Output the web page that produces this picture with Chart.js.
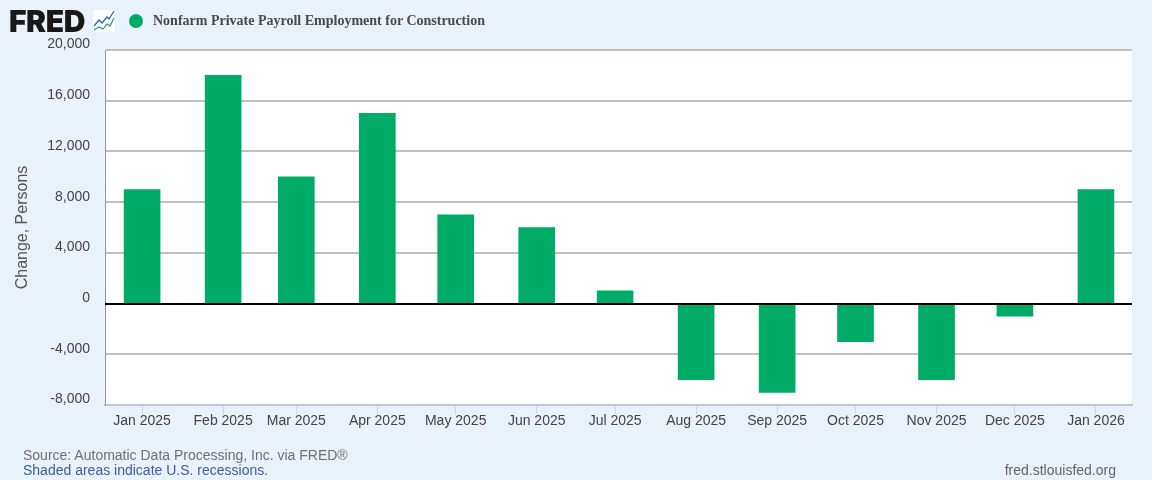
<!DOCTYPE html>
<html>
<head>
<meta charset="utf-8">
<title>Nonfarm Private Payroll Employment for Construction</title>
<script src="https://cdn.jsdelivr.net/npm/chart.js@4"></script>
<style>
    html, body { margin: 0; padding: 0; background: #e9f1fa; }
    #wrap { position: relative; width: 1152px; height: 480px; overflow: hidden; font-family: "Liberation Sans", Arial, sans-serif; }
    #chart { position: absolute; left: 0; top: 0; }
    .txt { position: absolute; white-space: nowrap; }
    #logo { left: 9px; top: 3px; font-family: Inter, sans-serif; font-weight: 900; font-size: 30px; line-height: 36px; letter-spacing: -0.4px; color: #1a1718; }
    #icon { position: absolute; left: 93px; top: 10px; }
    #dot { position: absolute; left: 128.5px; top: 13.5px; width: 14px; height: 14px; border-radius: 50%; background: #00aa67; }
    #series { left: 153px; top: 13px; font-family: "Liberation Serif", serif; font-weight: bold; font-size: 14px; line-height: 16px; color: #4a4a4a; }
    #source { left: 23px; top: 447px; font-size: 14px; line-height: 16px; color: #707070; }
    #shaded { left: 23px; top: 462px; font-size: 14px; line-height: 16px; color: #3a5f9f; }
    #site { right: 36px; top: 462px; font-size: 14px; line-height: 16px; color: #666; }
</style>
</head>
<body>
<div id="wrap">
    <canvas id="chart" width="1152" height="480"></canvas>
    <div class="txt" id="logo">FRED</div>
    <svg id="icon" width="22" height="22" viewBox="0 0 22 22">
        <rect width="22" height="22" fill="#fff"/>
        <polyline points="1,16 6,10 9,13 14,7 16,9 21,1" fill="none" stroke="#1f5fe0" stroke-width="1.2"/>
        <polyline points="1,20 6,17 10,19 14,14 17,16 21,8" fill="none" stroke="#1f9a7a" stroke-width="1.2"/>
    </svg>
    <div id="dot"></div>
    <div class="txt" id="series">Nonfarm Private Payroll Employment for Construction</div>
    <div class="txt" id="source">Source: Automatic Data Processing, Inc. via FRED®</div>
    <div class="txt" id="shaded">Shaded areas indicate U.S. recessions.</div>
    <div class="txt" id="site">fred.stlouisfed.org</div>
</div>
<script>
// Donnees
const categories = ['Jan 2025', 'Feb 2025', 'Mar 2025', 'Apr 2025', 'May 2025', 'Jun 2025', 'Jul 2025',
    'Aug 2025', 'Sep 2025', 'Oct 2025', 'Nov 2025', 'Dec 2025', 'Jan 2026'];
const dayOffsets = [0, 31, 59, 90, 120, 151, 181, 212, 243, 273, 304, 334, 365];
const changes = [9000, 18000, 10000, 15000, 7000, 6000, 1000, -6000, -7000, -3000, -6000, -1000, 9000];
const yTicks = [-8000, -4000, 0, 4000, 8000, 12000, 16000, 20000];

// The zero line sits on top of the bars
const zeroLine = {
    id: 'zeroLine',
    afterDatasetsDraw(chart) {
        const { ctx, chartArea, scales } = chart;
        const y = Math.round(scales.y.getPixelForValue(0));
        ctx.save();
        ctx.strokeStyle = '#000';
        ctx.lineWidth = 2;
        ctx.beginPath();
        ctx.moveTo(chartArea.left, y);
        ctx.lineTo(chartArea.right, y);
        ctx.stroke();
        ctx.restore();
    }
};

// White plot background
const plotBackground = {
    id: 'plotBackground',
    beforeDraw(chart) {
        const { ctx, chartArea } = chart;
        ctx.save();
        ctx.fillStyle = '#fff';
        ctx.fillRect(chartArea.left, chartArea.top, chartArea.width, chartArea.height);
        ctx.restore();
    }
};

new Chart(document.getElementById('chart'), {
    type: 'bar',
    data: {
        datasets: [{
            label: 'Nonfarm Private Payroll Employment for Construction',
            data: dayOffsets.map((d, i) => ({ x: d, y: changes[i] })),
            backgroundColor: '#00aa67',
            barThickness: 36
        }]
    },
    options: {
        responsive: false,
        animation: false,
        layout: { padding: { top: 50, right: 20, left: 0, bottom: 0 } },
        plugins: { legend: { display: false }, tooltip: { enabled: false } },
        scales: {
            x: {
                type: 'linear',
                offset: false,
                min: -14.2,
                max: 378.8,
                afterBuildTicks: scale => { scale.ticks = dayOffsets.map(d => ({ value: d })); },
                afterFit: scale => { scale.height = 75; },
                grid: { offset: false, drawOnChartArea: false, drawTicks: true, tickLength: 9, tickColor: '#ccd6eb' },
                border: { color: '#c0c6d4', width: 2 },
                ticks: {
                    autoSkip: false,
                    maxRotation: 0,
                    padding: -1.5,
                    color: '#444',
                    font: { family: '"Liberation Sans", Arial, sans-serif', size: 14 },
                    callback: (value, index) => categories[index]
                }
            },
            y: {
                min: -8000,
                max: 20000,
                afterBuildTicks: scale => { scale.ticks = yTicks.map(v => ({ value: v })); },
                afterFit: scale => { scale.width = 105; },
                grid: {
                    drawTicks: false,
                    lineWidth: 2,
                    color: '#c0c0c0'
                },
                border: { color: '#999', width: 1 },
                title: {
                    display: true,
                    text: 'Change, Persons',
                    color: '#555',
                    font: { family: '"Liberation Sans", Arial, sans-serif', size: 16 },
                    padding: { top: 13, bottom: 0 }
                },
                ticks: {
                    padding: 15,
                    color: '#444',
                    font: { family: '"Liberation Sans", Arial, sans-serif', size: 14, lineHeight: 11 / 14 },
                    // second empty line lifts the label above its grid line
                    callback: value => [value.toLocaleString('en-US'), '']
                }
            }
        }
    },
    plugins: [plotBackground, zeroLine]
});
</script>
</body>
</html>
